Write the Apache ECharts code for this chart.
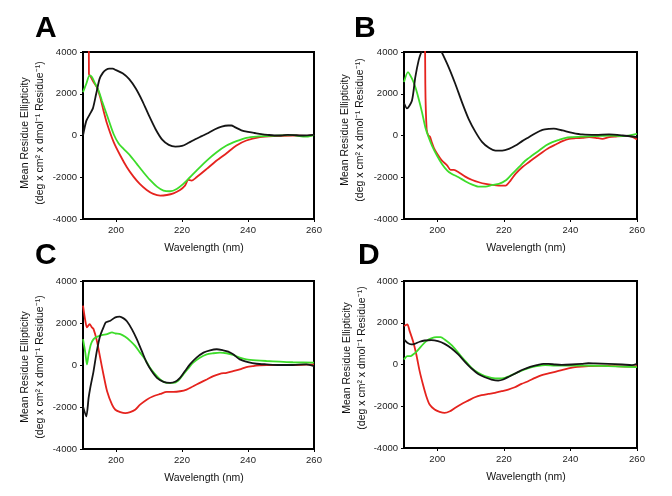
<!DOCTYPE html>
<html><head><meta charset="utf-8">
<script src="https://cdn.jsdelivr.net/npm/echarts@6/dist/echarts.min.js"></script>
<style>html,body{margin:0;padding:0;background:#fff}#c{width:672px;height:496px}</style>
</head><body><div id="c"></div>
<script>
// Wavelength ticks and axis ranges
const X_TICKS = [200, 220, 240, 260];
const X_MIN = 190, X_MAX = 260;
const Y_MIN = -4000, Y_MAX = 4000, Y_STEP = 2000;
const PANEL_LETTERS = ['A', 'B', 'C', 'D'];
const X_TITLE = 'Wavelength (nm)';
const Y_TITLE_1 = 'Mean Residue Ellipticity';
const Y_TITLE_2 = '(deg x cm\u00b2 x dmol\u207b\u00b9 Residue\u207b\u00b9)';

// Panel A: [wavelength nm, ellipticity]
const A_red = [[191.7,9000],[191.8,2950],[192.3,2820],[193.2,2560],[194.2,2320],[195.2,1840],[196.2,1200],[197.3,560],[199.3,-320],[201.3,-960],[203.3,-1520],[205.3,-1970],[207.2,-2320],[209.3,-2610],[211.3,-2800],[213.4,-2880],[215.4,-2850],[217.4,-2770],[219.4,-2610],[220.9,-2400],[221.9,-2130],[222.9,-2160],[224.4,-2000],[227.5,-1600],[230.5,-1200],[233.5,-850],[236.5,-480],[239.5,-240],[243.6,-80],[247.6,-30],[253.6,0],[257.7,-15],[260,30]];
const A_green = [[190,2080],[191,2480],[192,2880],[192.7,2800],[193.7,2480],[194.7,2160],[195.7,1680],[197.3,960],[199.3,60],[200.8,-380],[202.3,-640],[204.3,-960],[206.3,-1360],[208.3,-1760],[210.3,-2130],[212.4,-2450],[214.4,-2640],[216.4,-2670],[218.4,-2560],[220.4,-2320],[222.4,-2000],[224.4,-1680],[227.5,-1200],[230.5,-800],[233.5,-480],[236.5,-270],[239.5,-110],[242.6,-50],[247.6,-15],[253.6,15],[256.7,-50],[258.2,-50],[260,30]];
const A_black = [[190,0],[191,700],[192,1000],[193,1300],[194,2000],[195,2700],[196,3000],[197,3150],[198,3200],[199,3200],[200,3130],[202,2980],[204,2700],[206,2250],[208,1650],[210,950],[212,300],[214,-200],[216,-450],[218,-530],[220,-500],[222,-350],[224,-180],[226,-30],[228,120],[230,300],[232,430],[234,480],[235,480],[236,400],[238,250],[240,170],[242,120],[244,70],[246,30],[248,0],[250,0],[252,30],[254,20],[256,0],[258,10],[260,30]];

// Panel B
const B_red = [[196.2,9000],[196.4,2500],[196.8,300],[197.3,0],[197.8,-60],[198.3,-300],[199,-600],[200,-880],[201.4,-1200],[203,-1440],[204,-1650],[205,-1650],[206.4,-1760],[208.4,-1970],[210.5,-2130],[212.5,-2240],[214.5,-2320],[216.5,-2370],[218.5,-2400],[220.5,-2400],[222,-2160],[223.5,-1840],[225.5,-1520],[227.5,-1280],[229.5,-1040],[231.6,-800],[233.6,-590],[235.6,-430],[237.6,-270],[239.6,-160],[241.6,-130],[243.6,-110],[245.6,-80],[247.6,-110],[249.6,-160],[251.6,-80],[253.7,-50],[255.7,-30],[257.7,-30],[260,-190]];
const B_green = [[190,2560],[191.2,3040],[192.4,2720],[193.4,2320],[194.4,1760],[195.4,1120],[196.4,400],[197.4,-80],[198.4,-480],[199.9,-960],[201.4,-1360],[203,-1680],[204.4,-1840],[206.4,-2000],[208.4,-2190],[210.5,-2350],[212.5,-2450],[214.5,-2450],[216.5,-2370],[218.5,-2320],[220.5,-2160],[222.5,-1840],[224.5,-1520],[226.5,-1200],[228.5,-960],[230.6,-720],[232.6,-480],[234.6,-320],[236.6,-210],[238.6,-110],[240.6,-80],[243.6,-50],[247.6,-30],[251.6,0],[255.7,-30],[260,80]];
const B_black = [[190,1550],[190.9,1300],[192.4,1680],[193.4,2800],[194.4,3600],[195.2,4000],[196,4300],[197,4550],[198,4650],[199,4600],[200,4400],[201,4100],[203.4,3280],[205.4,2480],[207.4,1600],[209.4,800],[211.5,160],[213.5,-320],[215.5,-590],[217.5,-720],[219.5,-720],[221.5,-640],[223.5,-480],[225.5,-270],[227.5,-80],[229.5,110],[231.6,270],[233.6,320],[235,330],[237.6,240],[240.6,130],[243.6,50],[247.6,30],[251.6,50],[255.7,0],[260,-80]];

// Panel C
const C_red = [[190,2830],[190.7,2110],[191.2,1790],[192,1950],[192.7,1790],[193.2,1710],[194.2,1150],[195.2,350],[196.2,-450],[197.3,-1250],[198.8,-1890],[199.8,-2130],[201.3,-2240],[202.8,-2290],[204.3,-2240],[205.8,-2130],[207.3,-1890],[209.3,-1650],[211.3,-1490],[213.4,-1380],[215.4,-1280],[217.4,-1280],[219.4,-1250],[221.4,-1170],[223.4,-1010],[225.4,-850],[227.5,-690],[229.5,-530],[231.5,-420],[233.5,-370],[235.5,-290],[237.5,-210],[239.5,-100],[241.6,-50],[243.6,-20],[245.6,0],[253.6,0],[260,30]];
const C_green = [[190,1230],[190.7,590],[191.2,30],[191.7,510],[192.4,990],[193.2,1230],[194.2,1340],[195.7,1420],[197.3,1470],[198.8,1550],[199.8,1500],[201.3,1470],[202.8,1340],[204.3,1150],[205.8,910],[207.3,590],[208.8,270],[210.3,-130],[211.9,-450],[213.4,-690],[215.4,-850],[217.4,-850],[218.9,-740],[220.4,-450],[221.9,-160],[223.4,110],[225.4,350],[227.5,510],[229.5,560],[231.5,590],[233.5,560],[235.5,480],[237.5,350],[239.5,270],[242.6,220],[245.6,190],[249.6,160],[253.6,130],[260,110]];
const C_black = [[190,-1970],[191,-2450],[191.7,-1570],[192.2,-1090],[193.2,-290],[194.2,670],[195.2,1390],[196.2,1790],[196.9,2030],[198.3,2110],[199.8,2270],[201.1,2300],[202.3,2220],[203.3,2080],[204.8,1710],[206.3,1230],[207.8,670],[209.3,110],[210.8,-290],[212.4,-610],[214.4,-800],[216.4,-850],[217.9,-800],[219.4,-610],[220.9,-290],[222.4,30],[224.4,350],[226.5,590],[228.5,700],[230.5,750],[232.5,700],[234,640],[235.5,510],[237.5,270],[240,140],[242.6,60],[245.6,30],[249.6,0],[253.6,0],[257.7,30],[260,-50]];

// Panel D
const D_red = [[190,1840],[191,1920],[191.7,1600],[192.7,1120],[193.7,480],[194.7,-320],[195.7,-960],[196.7,-1520],[197.7,-1920],[199.2,-2160],[200.7,-2270],[202.2,-2320],[203.8,-2240],[205.3,-2080],[207.3,-1890],[209.3,-1730],[211.3,-1570],[213.3,-1470],[215.3,-1410],[217.3,-1360],[219.3,-1280],[221.3,-1200],[223.3,-1090],[225.3,-930],[227.3,-800],[229.4,-640],[231.4,-510],[233.4,-430],[235.4,-350],[237.4,-270],[239.4,-190],[241.4,-130],[243.4,-100],[245.4,-80],[249.4,-60],[253.5,-80],[257.5,-100],[260,-80]];
const D_green = [[190,240],[191,400],[192,400],[192.7,480],[193.7,610],[195.2,880],[196.7,1120],[198.2,1250],[199.7,1310],[201,1310],[202.2,1200],[204.3,930],[206.3,560],[208.3,190],[210.3,-160],[212.3,-400],[214.3,-560],[216.3,-640],[218.3,-670],[220.3,-640],[222.3,-510],[224.3,-370],[226.3,-240],[228.4,-130],[230.4,-60],[232.4,-30],[235.4,-50],[239.4,-50],[243.4,-50],[247.4,-60],[251.4,-80],[255.5,-100],[260,-130]];
const D_black = [[190,1200],[191,1040],[192.2,960],[193.2,990],[194.7,1090],[196.2,1150],[198.2,1170],[200.2,1120],[202.2,990],[204.3,770],[206.3,480],[208.3,130],[210.3,-190],[212.3,-450],[214.3,-610],[216.3,-720],[218.3,-770],[219.8,-720],[221.8,-560],[223.8,-400],[225.8,-240],[227.9,-110],[229.9,-30],[231.9,30],[233.4,30],[235.4,0],[237.4,-15],[240.4,0],[243.4,30],[245.4,60],[247.4,50],[251.4,30],[255.5,0],[258.5,-30],[260,30]];

const PANELS = [
  {red: A_red, green: A_green, black: A_black},
  {red: B_red, green: B_green, black: B_black},
  {red: C_red, green: C_green, black: C_black},
  {red: D_red, green: D_green, black: D_black}
];

const FONT = 'Liberation Sans, Arial, sans-serif';
const COL = {red: '#e5231e', green: '#3ddc2a', black: '#151515'};
const GRIDS = [
  {left: 83, top: 52, width: 231, height: 167},
  {left: 404, top: 52, width: 233, height: 167},
  {left: 83, top: 281, width: 231, height: 168},
  {left: 404, top: 281, width: 233, height: 167}
];
const LETTER_POS = [[35, 29], [354, 29], [35, 256], [358, 256]];
const YTITLE_POS = [[32.5, 133], [352.7, 130], [32.5, 367], [355, 358]];

const chart = echarts.init(document.getElementById('c'), null, {renderer: 'canvas'});
const xAxes = [], yAxes = [], series = [], graphic = [];
GRIDS.forEach((g, i) => {
  xAxes.push({
    gridIndex: i, type: 'value', min: X_MIN, max: X_MAX,
    axisLine: {show: true, onZero: false, lineStyle: {color: '#000', width: 2}},
    axisTick: {show: true, customValues: X_TICKS, length: 3, lineStyle: {color: '#000', width: 1}},
    axisLabel: {customValues: X_TICKS, fontSize: 9.5, color: '#222', margin: 6, fontFamily: FONT},
    splitLine: {show: false},
    name: X_TITLE, nameLocation: 'middle', nameGap: 23,
    nameTextStyle: {fontSize: 10.5, color: '#111', fontFamily: FONT, padding: [0, 0, 0, 11], lineHeight: 12}
  });
  yAxes.push({
    gridIndex: i, type: 'value', min: Y_MIN, max: Y_MAX, interval: Y_STEP,
    axisLine: {show: true, onZero: false, lineStyle: {color: '#000', width: 2}},
    axisTick: {show: true, length: 3, lineStyle: {color: '#000', width: 1}},
    axisLabel: {fontSize: 9.5, color: '#222', margin: 6, fontFamily: FONT, formatter: v => String(v)},
    splitLine: {show: false}
  });
  ['red', 'green', 'black'].forEach(k => {
    series.push({
      type: 'line', xAxisIndex: i, yAxisIndex: i, data: PANELS[i][k],
      showSymbol: false, smooth: 0.25, clip: true, z: 3,
      lineStyle: {color: COL[k], width: 1.8}, itemStyle: {color: COL[k]}
    });
  });
  graphic.push({
    type: 'text', x: LETTER_POS[i][0], y: LETTER_POS[i][1],
    style: {text: PANEL_LETTERS[i], font: 'bold 30px ' + FONT, fill: '#000', align: 'left', verticalAlign: 'middle'}
  });
  graphic.push({
    type: 'text', x: YTITLE_POS[i][0], y: YTITLE_POS[i][1], rotation: Math.PI / 2,
    style: {text: Y_TITLE_1 + '\n' + Y_TITLE_2, fontSize: 10.5, fontFamily: FONT, lineHeight: 15,
            fill: '#111', align: 'center', verticalAlign: 'middle'}
  });
});

chart.setOption({
  animation: false,
  backgroundColor: '#fff',
  grid: GRIDS.map(g => Object.assign({show: true, borderColor: '#000', borderWidth: 2, backgroundColor: 'transparent'}, g)),
  xAxis: xAxes, yAxis: yAxes, series: series, graphic: graphic
});
</script></body></html>
